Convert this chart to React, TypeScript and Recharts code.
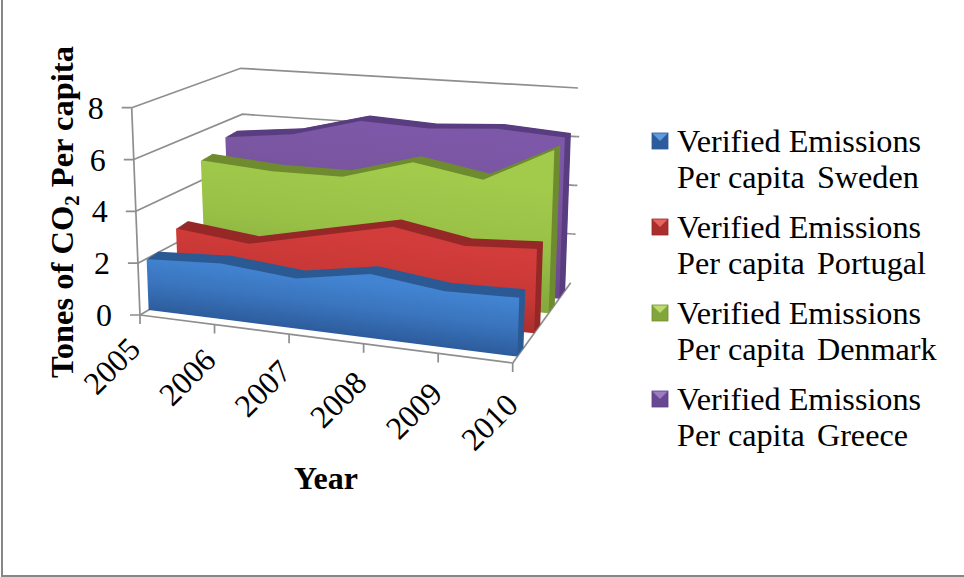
import React from "react";
import { ComposedChart, Area, Line, XAxis, YAxis } from "recharts";

const years = ["2005", "2006", "2007", "2008", "2009", "2010"];
const sweden = [1.98, 2.07, 1.77, 2.16, 1.81, 1.83];
const portugal = [2.64, 2.25, 2.78, 3.27, 2.76, 2.84];
const denmark = [4.9, 4.6, 4.53, 5.23, 4.7, 5.92];
const greece = [5.41, 5.7, 6.41, 6.25, 6.39, 6.19];
const yTicks = [0, 2, 4, 6, 8];

const WIDTH = 964;
const HEIGHT = 577;
const THICK = 0.105;
const LAYERS = 10;
const LIFT = 1.6;
const FLOOR_SLOPE = 0.125;

const seriesList = [
  { id: "sw", name: "Sweden", values: sweden, depthL: 0.08, depthR: 0.08, nudge: 0, light: "#4284d2", mid: "#3a74bd", dark: "#2d5c9c", side: "#2c5a94", glow: "#5f9be0" },
  { id: "pt", name: "Portugal", values: portugal, depthL: 0.33, depthR: 0.37, nudge: 3, light: "#d23c3a", mid: "#c83836", dark: "#a92e2c", side: "#962928", glow: "#e8625f" },
  { id: "dk", name: "Denmark", values: denmark, depthL: 0.57, depthR: 0.62, nudge: 4, light: "#a2cb4c", mid: "#98c046", dark: "#82a63b", side: "#6f8c30", glow: "#bbdc6c" },
  { id: "gr", name: "Greece", values: greece, depthL: 0.8, depthR: 0.8, nudge: 4, light: "#7d58a8", mid: "#775299", dark: "#684891", side: "#5a3e80", glow: "#9c7cc4" },
];

// Corners of the chart's 3D box on the page: [x, y]
const box = {
  f0l: [140, 315], f0r: [512.7, 363], b0l: [248, 252], b0r: [570.7, 282.7],
  f8l: [131.7, 107.7], f8r: [521, 100], b8l: [240.7, 68.3], b8r: [578, 88],
};
type Pt = { x: number; y: number };
const mix = (a: number, b: number, t: number) => a + (b - a) * t;
function project(u: number, d: number, v: number): Pt {
  const t = v / 8;
  const out = [0, 1].map((k) => {
    const f0 = mix(box.f0l[k], box.f0r[k], u);
    const b0 = mix(box.b0l[k], box.b0r[k], u);
    const f8 = mix(box.f8l[k], box.f8r[k], u);
    const b8 = mix(box.b8l[k], box.b8r[k], u);
    return mix(mix(f0, b0, d), mix(f8, b8, d), t);
  });
  return { x: out[0], y: out[1] };
}
function yAt(poly: Pt[], x: number) {
  for (let i = 0; i < poly.length - 1; i++) {
    const a = poly[i];
    const b = poly[i + 1];
    if (x >= a.x && x <= b.x) return b.x === a.x ? a.y : mix(a.y, b.y, (x - a.x) / (b.x - a.x));
  }
  return x < poly[0].x ? poly[0].y : poly[poly.length - 1].y;
}
// One face of a series: the projected values on top, the projected floor below.
const faceRows = (values: number[], dL: number, dR: number, extra: number, nudge: number) => {
  const n = values.length - 1;
  const rise = (LIFT * extra) / THICK;
  const place = (i: number, v: number) => {
    const u = i / n;
    const p = project(u, mix(dL, dR, u) + extra, v);
    return { x: p.x + nudge * (1 - u), y: p.y - (v > 0 ? rise : 0) };
  };
  const high = values.map((v, i) => place(i, v));
  const floorL = place(0, 0);
  const floorR = place(n, 0);
  const low = [high[0], floorL, floorR, high[n]];
  const xs = [...high.map((p) => p.x), floorL.x, floorR.x].sort((a, b) => a - b);
  return xs.map((x) => ({ x, band: [yAt(low, x), yAt(high, x)] }));
};
const seg = (a: Pt, b: Pt) => [a, b];

const GRID = "#8e8e8e";
const serif = "'Liberation Serif', 'Times New Roman', serif";

function gridLines() {
  const lines: Pt[][] = [];
  yTicks.forEach((v) => {
    if (v === 0) return;
    lines.push([project(0, 0, v), project(0, 1, v), project(1, 1, v)]);
    if (v < 8) lines.push(seg(project(1, 1, v), { x: project(1, 1, v).x + 3, y: project(1, 1, v).y + 0.01 }));
  });
  return lines;
}
function axisLines() {
  const lines: Pt[][] = [];
  lines.push(seg(project(0, 0, 8), project(0, 0, 0)));
  lines.push(seg(project(0, 0, 0), project(1, 0, 0)));
  lines.push(seg(project(0, 0, 0), project(0, 1, 0)));
  lines.push(seg(project(1, 0, 0), project(1, 1, 0)));
  yTicks.forEach((v) => {
    const p = project(0, 0, v);
    lines.push(seg({ x: p.x - 10, y: p.y + 0.01 }, p));
  });
  years.forEach((_, i) => {
    const p = project(i / 5, 0, 0);
    lines.push(seg(p, { x: p.x + 0.01, y: p.y + 9 }));
  });
  return lines;
}
const swatchTop = (x: number, y: number, s: number) =>
  `${x},${y} ${x + s},${y} ${x + s / 2},${y + s * 0.5}`;

const legendTop = [142, 228, 314, 400];
const chartProps = {
  width: WIDTH,
  height: HEIGHT,
  margin: { top: 0, right: 0, bottom: 0, left: 0 },
  data: [],
};
const layer: React.CSSProperties = { position: "absolute", left: 0, top: 0 };
const edge = "#868686";
const axes = [
  <XAxis key="x" dataKey="x" type="number" domain={[0, WIDTH]} hide allowDataOverflow />,
  <YAxis key="y" type="number" domain={[0, HEIGHT]} reversed hide allowDataOverflow width={0} />,
];

function faceGradient(s: (typeof seriesList)[number]) {
  const avg = s.values.reduce((a, b) => a + b, 0) / s.values.length;
  const d = (s.depthL + s.depthR) / 2;
  const foot = project(0.5, d, 0);
  const h = foot.y - project(0.5, d, avg).y;
  const k = 1 / (1 + FLOOR_SLOPE * FLOOR_SLOPE);
  return (
    <linearGradient
      key={s.id}
      id={`face-${s.id}`}
      gradientUnits="userSpaceOnUse"
      x1={foot.x + h * FLOOR_SLOPE * k}
      y1={foot.y - h * k}
      x2={foot.x}
      y2={foot.y}
    >
      <stop offset="0%" stopColor={s.light} />
      <stop offset="50%" stopColor={s.mid} />
      <stop offset="100%" stopColor={s.dark} />
    </linearGradient>
  );
}

export default function App() {
  return (
    <div style={{ position: "fixed", left: 0, top: 0, width: WIDTH, height: HEIGHT, background: "#fff", overflow: "hidden" }}>
      <div style={{ position: "absolute", left: 1, top: 0, width: 961, height: 575, borderLeft: `2px solid ${edge}`, borderRight: `2px solid ${edge}`, borderBottom: `2px solid ${edge}`, boxSizing: "content-box" }} />
      <div style={layer}>
        <ComposedChart {...chartProps}>
          {axes}
          {[...gridLines(), ...axisLines()].map((pts, i) => (
            <Line key={`g${i}`} data={pts} dataKey="y" stroke={GRID} strokeWidth={1.7} dot={false} activeDot={false} isAnimationActive={false} />
          ))}
        </ComposedChart>
      </div>
      <div style={layer}>
        <ComposedChart {...chartProps}>
          <defs>{seriesList.map(faceGradient)}</defs>
          {axes}

          {[...seriesList].reverse().flatMap((s) => [
            ...Array.from({ length: LAYERS }, (_, k) => LAYERS - k).map((k) => (
              <Area
                key={`${s.id}-l${k}`}
                data={faceRows(s.values, s.depthL, s.depthR, (THICK * k) / LAYERS, s.nudge)}
                dataKey="band"
                type="linear"
                stroke="none"
                fill={s.side}
                fillOpacity={1}
                dot={false}
                activeDot={false}
                isAnimationActive={false}
              />
            )),
            <Area
              key={`${s.id}-front`}
              data={faceRows(s.values, s.depthL, s.depthR, 0, s.nudge)}
              dataKey="band"
              type="linear"
              stroke="none"
              fill={`url(#face-${s.id})`}
              fillOpacity={1}
              dot={false}
              activeDot={false}
              isAnimationActive={false}
            />,
          ])}

          {yTicks.map((v) => {
            const p = project(0, 0, v);
            return (
              <text key={v} x={p.x - 28} y={p.y + 11} textAnchor="end" fontFamily={serif} fontSize={32} fill="#000">
                {v}
              </text>
            );
          })}
          {years.map((yr, i) => {
            const u = i / 5;
            const p = project(u, 0, 0);
            const tx = p.x + 2 + 5 * u;
            const ty = p.y + 36 + 8 * u;
            return (
              <text
                key={yr}
                x={tx}
                y={ty}
                textAnchor="end"
                fontFamily={serif}
                fontSize={32}
                fill="#000"
                transform={`rotate(-45 ${tx} ${ty})`}
              >
                {yr}
              </text>
            );
          })}
          <text x={326} y={489} textAnchor="middle" fontFamily={serif} fontSize={32} fontWeight="bold" fill="#000">
            Year
          </text>
          <text x={73} y={212} textAnchor="middle" fontFamily={serif} fontSize={32.5} fontWeight="bold" fill="#000" transform="rotate(-90 73 212)">
            Tones of CO<tspan fontSize={21} dy={6}>2</tspan><tspan dy={-6}> Per capita</tspan>
          </text>

          {seriesList.map((s, i) => {
            const cy = legendTop[i];
            return (
              <g key={s.id}>
                <rect x={652} y={cy - 9} width={16} height={16} fill={s.dark} />
                <polygon points={swatchTop(652, cy - 9, 16)} fill={s.glow} />
                <rect x={652} y={cy - 9} width={16} height={16} fill="none" stroke={s.side} strokeWidth={0.8} />
                <text x={677} y={cy + 10} fontFamily={serif} fontSize={32.2} fill="#000">Verified Emissions</text>
                <text x={677} y={cy + 46} fontFamily={serif} fontSize={32.2} fill="#000" xmlSpace="preserve">
                  Per capita{"  "}<tspan dx={-4}>{s.name}</tspan>
                </text>
              </g>
            );
          })}
        </ComposedChart>
      </div>
    </div>
  );
}
